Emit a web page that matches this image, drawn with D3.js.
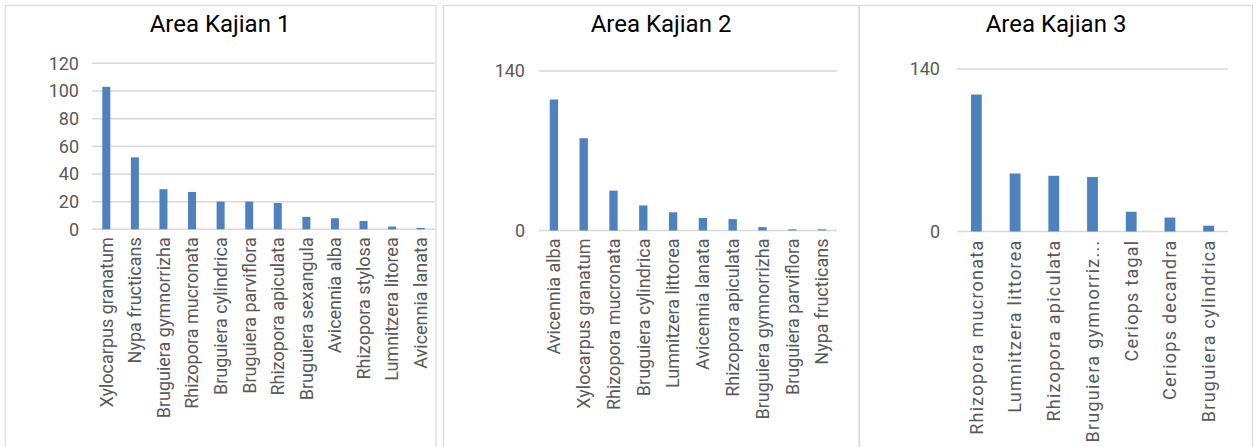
<!DOCTYPE html>
<meta charset="utf-8">
<head>
  <script src="https://d3js.org/d3.v7.min.js"></script>
  <style>
    body { margin: 0; background: #fff; }
    text { font-family: Roboto, "Noto Sans", sans-serif; }
  </style>
</head>
<body>
<script>
// --- data: one set of arrays per panel ---
const titles = ["Area Kajian 1", "Area Kajian 2", "Area Kajian 3"];

const cats1 = ["Xylocarpus granatum", "Nypa fructicans", "Bruguiera gymnorrizha", "Rhizopora mucronata",
  "Bruguiera cylindrica", "Bruguiera parviflora", "Rhizopora apiculata", "Bruguiera sexangula",
  "Avicennia alba", "Rhizopora stylosa", "Lumnitzera litorea", "Avicennia lanata"];
const vals1 = [103, 52, 29, 27, 20, 20, 19, 9, 8, 6, 2, 1];
const ticks1 = [0, 20, 40, 60, 80, 100, 120];

const cats2 = ["Avicennia alba", "Xylocarpus granatum", "Rhizopora mucronata", "Bruguiera cylindrica",
  "Lumnitzera littorea", "Avicennia lanata", "Rhizopora apiculata", "Bruguiera gymnorrizha",
  "Bruguiera parviflora", "Nypa fructicans"];
const vals2 = [115, 81, 35, 22, 16, 11, 10, 3, 1, 1];
const ticks2 = [0, 140];

const cats3 = ["Rhizopora mucronata", "Lumnitzera littorea", "Rhizopora apiculata", "Bruguiera gymnorriz...",
  "Ceriops tagal", "Ceriops decandra", "Bruguiera cylindrica"];
const vals3 = [118, 50, 48, 47, 17, 12, 5];
const ticks3 = [0, 140];

// --- layout per panel ---
const panels = [
  {title: titles[0], cats: cats1, vals: vals1, ticks: ticks1, max: 120,
   box: [5.5, 436], titleX: 220, x: [92, 435], y: [229.3, 63.3], labelLeft: 79, spacing: 0},
  {title: titles[1], cats: cats2, vals: vals2, ticks: ticks2, max: 140,
   box: [443.5, 859], titleX: 661, x: [539, 837], y: [230.5, 71], labelLeft: 525, spacing: 0},
  {title: titles[2], cats: cats3, vals: vals3, ticks: ticks3, max: 140,
   box: [859.5, 1252.5], titleX: 1056, x: [957, 1228], y: [231.5, 69], labelLeft: 940, spacing: 1.25}
];

const W = 1256, H = 447;
const svg = d3.select("body").append("svg").attr("width", W).attr("height", H);
svg.append("rect").attr("width", W).attr("height", H).attr("fill", "#fff");

panels.forEach(function (p) {
  const g = svg.append("g");

  // panel frame (runs off the bottom of the picture)
  g.append("rect")
    .attr("x", p.box[0]).attr("y", 5.5)
    .attr("width", p.box[1] - p.box[0]).attr("height", H + 20)
    .attr("fill", "none").attr("stroke", "#d9d9d9").attr("stroke-width", 1.2);

  g.append("text")
    .attr("x", p.titleX).attr("y", 32)
    .attr("text-anchor", "middle")
    .style("font-size", "24px").style("fill", "#000")
    .text(p.title);

  const x = d3.scaleBand().domain(p.cats).range(p.x).paddingInner(0.72).paddingOuter(0.36);
  const y = d3.scaleLinear().domain([0, p.max]).range(p.y);

  // gridlines
  g.selectAll(".grid").data(p.ticks).join("line")
    .attr("x1", p.x[0]).attr("x2", p.x[1])
    .attr("y1", d => y(d)).attr("y2", d => y(d))
    .attr("stroke", "#d9d9d9").attr("stroke-width", 1.5);

  // y axis labels
  const ya = g.append("g").attr("transform", "translate(" + p.labelLeft + ",0)")
    .call(d3.axisLeft(y).tickValues(p.ticks).tickSize(0).tickPadding(0));
  ya.select(".domain").remove();
  ya.selectAll("text").style("font-size", "18px").style("fill", "#595959")
    .style("font-family", "Roboto, sans-serif");

  // bars
  g.selectAll(".bar").data(p.vals).join("rect")
    .attr("x", (d, i) => x(p.cats[i]))
    .attr("y", d => y(d))
    .attr("width", x.bandwidth())
    .attr("height", d => y(0) - y(d))
    .attr("fill", "#4f81bd");

  // category labels
  const xa = g.append("g").attr("transform", "translate(0," + y(0) + ")")
    .call(d3.axisBottom(x).tickSize(0));
  xa.select(".domain").remove();
  xa.selectAll("text")
    .attr("transform", "rotate(-90)")
    .attr("x", -8).attr("y", 0).attr("dy", "0.35em")
    .style("text-anchor", "end")
    .style("font-size", "18px").style("fill", "#595959")
    .style("font-family", "Roboto, sans-serif")
    .style("letter-spacing", p.spacing + "px");
});
</script>
</body>
</html>
